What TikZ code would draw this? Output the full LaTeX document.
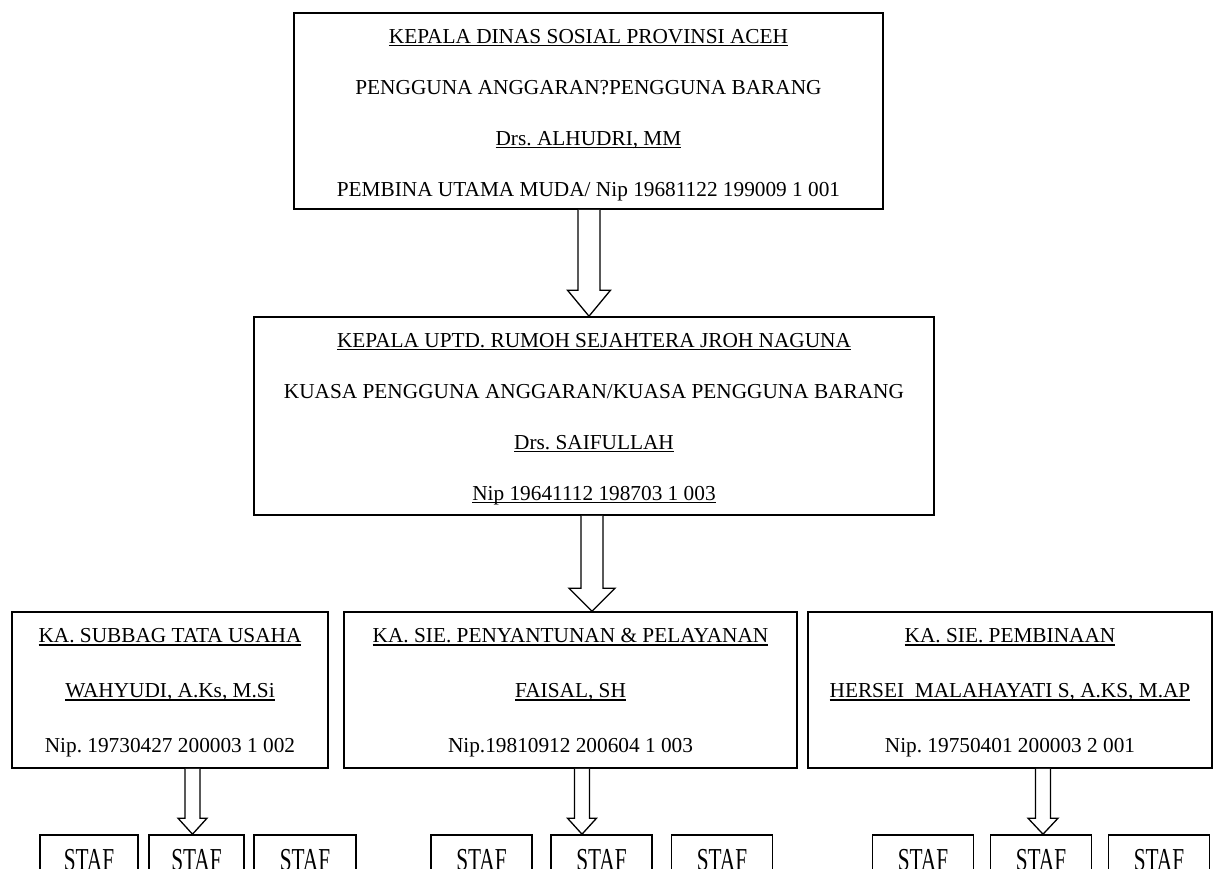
\documentclass[tikz,border=0pt]{standalone}
\usepackage{fontspec}
\setmainfont{Liberation Serif}
\usetikzlibrary{calc}
\frenchspacing

\tikzstyle{pimpinan} = [rectangle, draw=black, line width=1.6pt, inner sep=0pt, text centered, align=center, font=\fontsize{21.3}{51}\selectfont]
\tikzstyle{seksi} = [rectangle, draw=black, line width=1.6pt, minimum height=156pt, inner sep=0pt, text centered, align=center, font=\fontsize{21.3}{55}\selectfont]
\tikzstyle{staf} = [rectangle, draw=black, line width=1.6pt, minimum width=101pt, minimum height=51pt, inner sep=0pt, text centered, font=\fontsize{21.3}{25}\selectfont]
\tikzstyle{hollow} = [draw=black, line width=1.3pt, fill=white, line join=miter]

% underline at a fixed depth
\newsavebox{\garisbox}
\newcommand{\garis}[1]{\sbox{\garisbox}{#1}\rlap{\rule[-2.8pt]{\wd\garisbox}{1.2pt}}\usebox{\garisbox}}
% strut on the first line, pushes the text block down a little
\newcommand{\tiang}[1]{\rule{0pt}{#1}}
% taller STAF lettering
\newcommand{\tinggi}[1]{\scalebox{1}[1.5]{#1}}

% hollow block arrow: from, to, x offset, shaft half width, head half width, head length
\newcommand{\panah}[6]{%
  \draw [hollow] let \p1=(#1.south), \p2=(#2.north) in
    (\x1+#3pt-#4pt,\y1) -- (\x1+#3pt-#4pt,\y2+#6pt) -- (\x1+#3pt-#5pt,\y2+#6pt)
    -- (\x1+#3pt,\y2) -- (\x1+#3pt+#5pt,\y2+#6pt) -- (\x1+#3pt+#4pt,\y2+#6pt)
    -- (\x1+#3pt+#4pt,\y1);}

\begin{document}
\begin{tikzpicture}[x=1pt, y=-1pt, node distance=170.5pt]

    \useasboundingbox (0,0) rectangle (1213,869);
    \clip (0,0) rectangle (1213,869);

    % Nodes
    \node (kadis) [pimpinan, minimum width=589pt, minimum height=196pt] at (588.5,111) {\tiang{22pt}\garis{KEPALA DINAS SOSIAL PROVINSI ACEH}\\ PENGGUNA ANGGARAN?PENGGUNA BARANG\\ \garis{Drs. ALHUDRI, MM}\\ PEMBINA UTAMA MUDA/ Nip 19681122 199009 1 001};
    \node (uptd) [pimpinan, minimum width=680pt, minimum height=198pt, below of=kadis, yshift=-134.5pt, xshift=5.5pt] {\tiang{20pt}\garis{KEPALA UPTD. RUMOH SEJAHTERA JROH NAGUNA}\\ KUASA PENGGUNA ANGGARAN/KUASA PENGGUNA BARANG\\ \garis{Drs. SAIFULLAH}\\ \garis{Nip 19641112 198703 1 003}};
    \node (tu) [seksi, minimum width=316pt, below of=uptd, yshift=-103.5pt, xshift=-424pt] {\tiang{20pt}\garis{KA. SUBBAG TATA USAHA}\\ \garis{WAHYUDI, A.Ks, M.Si}\\ Nip. 19730427 200003 1 002};
    \node (pelayanan) [seksi, minimum width=453pt, below of=uptd, yshift=-103.5pt, xshift=-23.5pt] {\tiang{20pt}\garis{KA. SIE. PENYANTUNAN \& PELAYANAN}\\ \garis{FAISAL, SH}\\ Nip.19810912 200604 1 003};
    \node (pembinaan) [seksi, minimum width=404pt, below of=uptd, yshift=-103.5pt, xshift=416pt] {\tiang{20pt}\garis{KA. SIE. PEMBINAAN}\\ \garis{HERSEI\ \ MALAHAYATI S, A.KS, M.AP}\\ Nip. 19750401 200003 2 001};

    \node (tu1) [staf, minimum width=98pt, below of=tu, xshift=-81pt] {\tinggi{STAF}};
    \node (tu2) [staf, minimum width=95pt, below of=tu, xshift=26.5pt] {\tinggi{STAF}};
    \node (tu3) [staf, minimum width=102pt, below of=tu, xshift=135pt] {\tinggi{STAF}};
    \node (pel1) [staf, below of=pelayanan, xshift=-89pt] {\tinggi{STAF}};
    \node (pel2) [staf, below of=pelayanan, xshift=31pt] {\tinggi{STAF}};
    \node (pel3) [staf, below of=pelayanan, xshift=151.5pt] {\tinggi{STAF}};
    \node (bin1) [staf, below of=pembinaan, xshift=-87pt] {\tinggi{STAF}};
    \node (bin2) [staf, below of=pembinaan, xshift=31pt] {\tinggi{STAF}};
    \node (bin3) [staf, below of=pembinaan, xshift=149pt] {\tinggi{STAF}};

    % Arrows
    \panah{kadis}{uptd}{0.5}{11}{21.5}{26}
    \panah{uptd}{pelayanan}{-2}{11}{23}{23}
    \panah{tu}{tu2}{22.5}{7.5}{14.5}{16}
    \panah{pelayanan}{pel2}{11.5}{7.5}{14.5}{16}
    \panah{pembinaan}{bin2}{33}{7.5}{15}{16}

\end{tikzpicture}
\end{document}
